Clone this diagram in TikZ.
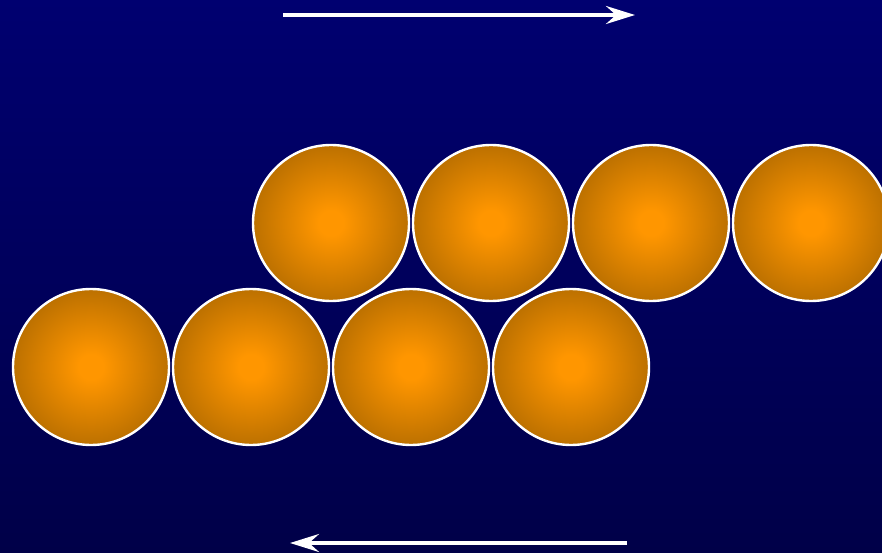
\documentclass[tikz,border=0pt]{standalone}
\usetikzlibrary{arrows.meta}
\definecolor{bgtop}{RGB}{0,0,112}
\definecolor{bgbot}{RGB}{0,0,72}
\definecolor{ballin}{RGB}{255,150,0}
\definecolor{ballout}{RGB}{166,100,0}
\pgfdeclareradialshading{ballshade}{\pgfpoint{0bp}{0bp}}{color(0bp)=(ballin); color(4bp)=(ballin); color(32bp)=(ballout); color(100bp)=(ballout)}
\begin{document}
\begin{tikzpicture}[x=1pt,y=-1pt,
  ball/.style={circle,minimum size=156pt,inner sep=0pt,draw=white,line width=2.4pt,
    shading=ballshade},
  flow/.style={draw=white,line width=3.4pt,-{Stealth[length=29pt,width=18pt,inset=10pt]}}]
\useasboundingbox (0,0) rectangle (882,553);
\shade[top color=bgtop,bottom color=bgbot] (0,0) rectangle (882,553);
\clip (0,0) rectangle (882,553);
\node[ball] (t1) at (331,223) {};
\node[ball] (t2) at (491,223) {};
\node[ball] (t3) at (651,223) {};
\node[ball] (t4) at (811,223) {};
\node[ball] (b1) at (91,367) {};
\node[ball] (b2) at (251,367) {};
\node[ball] (b3) at (411,367) {};
\node[ball] (b4) at (571,367) {};
\coordinate (a1s) at (283,15);
\coordinate (a1e) at (635,15);
\coordinate (a2s) at (627,543);
\coordinate (a2e) at (290,543);
\draw[flow] (a1s) -- (a1e);
\draw[flow] (a2s) -- (a2e);
\end{tikzpicture}
\end{document}
